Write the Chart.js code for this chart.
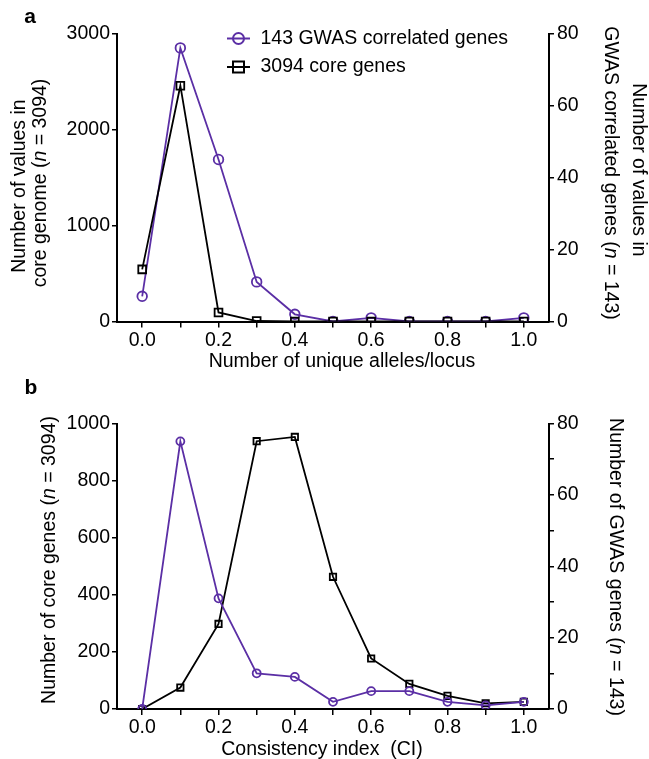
<!DOCTYPE html>
<html>
<head>
<meta charset="utf-8">
<script src="https://cdn.jsdelivr.net/npm/chart.js@4/dist/chart.umd.min.js"></script>
<style>
  html, body { margin: 0; padding: 0; background: #fff; }
  #wrap { position: relative; width: 649px; height: 759px; }
  .panel { position: absolute; left: 0; width: 649px; }
  #panelA { top: 0; height: 372px; }
  #panelB { top: 372px; height: 387px; }
</style>
</head>
<body>
<div id="wrap">
  <div class="panel" id="panelA"><canvas id="chartA"></canvas></div>
  <div class="panel" id="panelB"><canvas id="chartB"></canvas></div>
</div>
<script>
/* Two stacked dual-axis line charts (panels a and b) */

const PURPLE = '#5b2fa5';
const BLACK  = '#000000';
const FONT   = '"Liberation Sans", Arial, sans-serif';
const FSIZE  = 19.5;

// shared x categories (bins)
const xValues     = [0.0, 0.1, 0.2, 0.3, 0.4, 0.5, 0.6, 0.7, 0.8, 0.9, 1.0];
const xTickLabels = ['0.0', '', '0.2', '', '0.4', '', '0.6', '', '0.8', '', '1.0'];

// panel a: unique alleles per locus
const coreAlleles = [543, 2456, 94, 5, 0, 0, 0, 0, 0, 0, 0];
const gwasAlleles = [7, 76, 45, 11, 2, 0, 1, 0, 0, 0, 1];

// panel b: consistency index
const coreCI = [0, 75, 298, 938, 953, 463, 177, 88, 46, 20, 25];
const gwasCI = [0, 75, 31, 10, 9, 2, 5, 5, 2, 1, 2];

const legendLabels = ['143 GWAS correlated genes', '3094 core genes'];

const toXY = arr => arr.map((v, i) => ({ x: xValues[i], y: v }));

/* text helpers: segments are [text, italic] */
function segWidth(ctx, segs) {
  let w = 0;
  segs.forEach(([t, it]) => { ctx.font = (it ? 'italic ' : '') + FSIZE + 'px ' + FONT; w += ctx.measureText(t).width; });
  return w;
}
function drawSegs(ctx, segs, cx, cy, rot) {
  ctx.save();
  ctx.translate(cx, cy);
  ctx.rotate(rot);
  ctx.fillStyle = '#000';
  ctx.textBaseline = 'middle';
  ctx.textAlign = 'left';
  let x = -segWidth(ctx, segs) / 2;
  segs.forEach(([t, it]) => {
    ctx.font = (it ? 'italic ' : '') + FSIZE + 'px ' + FONT;
    ctx.fillText(t, x, 0);
    x += ctx.measureText(t).width;
  });
  ctx.restore();
}

const overlay = {
  id: 'overlay',
  afterDraw(chart, args, opts) {
    const ctx = chart.ctx;
    // panel letter
    ctx.save();
    ctx.font = 'bold 21px ' + FONT;
    ctx.fillStyle = '#000';
    ctx.textAlign = 'center';
    ctx.textBaseline = 'middle';
    ctx.fillText(opts.letter[0], opts.letter[1], opts.letter[2]);
    ctx.restore();
    (opts.texts || []).forEach(t => drawSegs(ctx, t.segs, t.x, t.y, t.rot || 0));
    // legend: line through marker, then label
    (opts.legend || []).forEach(l => {
      ctx.save();
      ctx.strokeStyle = l.color;
      ctx.lineWidth = 2;
      ctx.beginPath();
      ctx.moveTo(l.x - 11.5, l.y); ctx.lineTo(l.x + 11.5, l.y);
      ctx.stroke();
      ctx.beginPath();
      if (l.shape === 'circle') ctx.arc(l.x, l.y, 5.5, 0, Math.PI * 2);
      else ctx.rect(l.x - 5.5, l.y - 5.5, 11, 11);
      ctx.stroke();
      ctx.font = FSIZE + 'px ' + FONT;
      ctx.fillStyle = '#000';
      ctx.textBaseline = 'middle';
      ctx.fillText(l.text, l.x + 22, l.y);
      ctx.restore();
    });
  }
};

function buildOptions(cfg) {
  const tickFont = { family: FONT, size: FSIZE };
  return {
    responsive: true,
    maintainAspectRatio: false,
    animation: false,
    layout: { padding: { top: cfg.top, left: 0, right: 0, bottom: 0 } },
    plugins: { legend: { display: false }, tooltip: { enabled: false }, overlay: cfg.overlay },
    scales: {
      x: {
        type: 'linear', min: -0.066, max: 1.066,
        afterBuildTicks: s => { s.ticks = xValues.map(v => ({ value: v })); },
        afterFit: s => { s.height = cfg.xHeight; },
        border: { color: '#000', width: 2 },
        grid: { drawOnChartArea: false, drawTicks: true, tickLength: 6, color: '#000', lineWidth: 1.5 },
        ticks: { color: '#000', font: tickFont, padding: 1, maxRotation: 0, autoSkip: false,
                 callback: (v, i) => xTickLabels[i] }
      },
      yL: {
        position: 'left', min: 0, max: cfg.leftMax,
        afterFit: s => { s.width = 117; },
        border: { color: '#000', width: 2 },
        grid: { drawOnChartArea: false, tickLength: 5, color: '#000', lineWidth: 1.5 },
        ticks: { color: '#000', font: tickFont, padding: 2, stepSize: cfg.leftStep, callback: v => String(v) }
      },
      yR: {
        position: 'right', min: 0, max: 80,
        afterFit: s => { s.width = 100; },
        afterBuildTicks: s => {
          const t = [];
          for (let v = 0; v <= 80; v += cfg.rightMinor) t.push({ value: v });
          s.ticks = t;
        },
        border: { color: '#000', width: 2 },
        grid: { drawOnChartArea: false, tickLength: 5, color: '#000', lineWidth: 1.5 },
        ticks: { color: '#000', font: tickFont, padding: 3, autoSkip: false,
                 callback: v => (v % 20 === 0 ? String(v) : '') }
      }
    }
  };
}

function lineSet(label, data, color, shape, axis, r, order) {
  return {
    label, data: toXY(data), yAxisID: axis, order,
    borderColor: color, backgroundColor: '#fff', borderWidth: 1.8,
    pointStyle: shape, pointRadius: r, pointBorderColor: color, pointBackgroundColor: 'rgba(255,255,255,0)',
    pointBorderWidth: 1.8, tension: 0
  };
}

new Chart(document.getElementById('chartA'), {
  type: 'line',
  plugins: [overlay],
  data: {
    datasets: [
      lineSet(legendLabels[1], coreAlleles, BLACK, 'rect', 'yL', 5.5, 0),
      lineSet(legendLabels[0], gwasAlleles, PURPLE, 'circle', 'yR', 4.8, 1)
    ]
  },
  options: buildOptions({
    top: 33.5, xHeight: 372 - 321.5, leftMax: 3000, leftStep: 1000, rightMinor: 20,
    overlay: {
      letter: ['a', 30, 17],
      texts: [
        { segs: [['Number of values in', false]], x: 20, y: 186, rot: -Math.PI / 2 },
        { segs: [['core genome (', false], ['n', true], [' = 3094)', false]], x: 41, y: 183, rot: -Math.PI / 2 },
        { segs: [['Number of values in', false]], x: 638, y: 170, rot: Math.PI / 2 },
        { segs: [['GWAS correlated genes (', false], ['n', true], [' = 143)', false]], x: 610, y: 173, rot: Math.PI / 2 },
        { segs: [['Number of unique alleles/locus', false]], x: 342, y: 362 }
      ],
      legend: [
        { text: legendLabels[0], color: PURPLE, shape: 'circle', x: 238.5, y: 38.5 },
        { text: legendLabels[1], color: BLACK, shape: 'rect', x: 238.5, y: 67 }
      ]
    }
  })
});

new Chart(document.getElementById('chartB'), {
  type: 'line',
  plugins: [overlay],
  data: {
    datasets: [
      lineSet(legendLabels[1], coreCI, BLACK, 'rect', 'yL', 4.5, 1),
      lineSet(legendLabels[0], gwasCI, PURPLE, 'circle', 'yR', 4, 0)
    ]
  },
  options: buildOptions({
    top: 423.5 - 372, xHeight: 387 - (709 - 372), leftMax: 1000, leftStep: 200, rightMinor: 10,
    overlay: {
      letter: ['b', 31, 388 - 372],
      texts: [
        { segs: [['Number of core genes (', false], ['n', true], [' = 3094)', false]], x: 50, y: 560 - 372, rot: -Math.PI / 2 },
        { segs: [['Number of GWAS genes (', false], ['n', true], [' = 143)', false]], x: 615, y: 567 - 372, rot: Math.PI / 2 },
        { segs: [['Consistency index  (CI)', false]], x: 322, y: 750 - 372 }
      ]
    }
  })
});
</script>
</body>
</html>
